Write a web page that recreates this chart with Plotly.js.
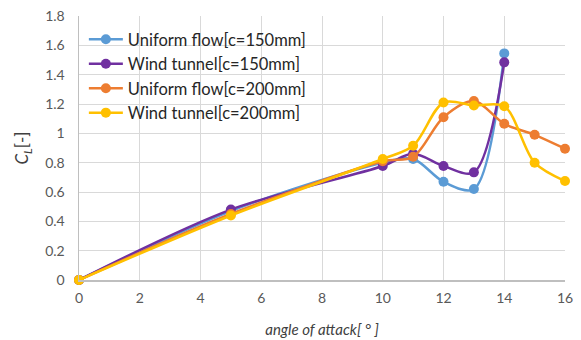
<!DOCTYPE html>
<html>
<head>
<meta charset="utf-8">
<script src="https://cdn.plot.ly/plotly-3.0.1.min.js"></script>
<style>html,body{margin:0;padding:0;background:#fff;}#chart{width:581px;height:340px;}</style>
</head>
<body>
<div id="chart"></div>
<script>
const seriesNames = ["Uniform flow[c=150mm]", "Wind tunnel[c=150mm]", "Uniform flow[c=200mm]", "Wind tunnel[c=200mm]"];
const anglesShort = [0, 5, 10, 11, 12, 13, 14];
const anglesLong = [0, 5, 10, 11, 12, 13, 14, 15, 16];
const uniform150 = [0, 0.47, 0.80, 0.825, 0.67, 0.62, 1.545];
const wind150 = [0, 0.48, 0.777, 0.86, 0.777, 0.734, 1.484];
const uniform200 = [0, 0.45, 0.81, 0.84, 1.11, 1.22, 1.065, 0.99, 0.895];
const wind200 = [0, 0.44, 0.825, 0.915, 1.21, 1.19, 1.185, 0.80, 0.675];
const colors = ["#5B9BD5", "#7030A0", "#ED7D31", "#FFC000"];

const xs = [anglesShort, anglesShort, anglesLong, anglesLong];
const ys = [uniform150, wind150, uniform200, wind200];
const traces = ys.map((y, i) => ({
  x: xs[i], y: y, name: seriesNames[i], type: 'scatter', mode: 'lines+markers',
  cliponaxis: false,
  line: {color: colors[i], width: 2.5, shape: 'spline', smoothing: 0.9},
  marker: {color: colors[i], size: 10}
}));

const font = "Lato, 'Open Sans', sans-serif";
const layout = {
  width: 581, height: 340,
  margin: {l: 79, r: 16, t: 16, b: 60},
  paper_bgcolor: '#fff', plot_bgcolor: '#fff',
  font: {family: font, size: 14, color: '#595959'},
  showlegend: true,
  legend: {x: 0.01, y: 0.977, xanchor: 'left', yanchor: 'top', bgcolor: 'rgba(0,0,0,0)',
           font: {family: font, size: 16.5, color: '#262626'}, tracegroupgap: 0, itemwidth: 34},
  xaxis: {range: [0, 16], dtick: 2, tick0: 0, showgrid: true, gridcolor: '#d9d9d9', gridwidth: 1,
          zeroline: false, showline: true, linecolor: '#bfbfbf', linewidth: 1.5, ticks: '',
          ticklabelstandoff: 5,
          tickfont: {family: font, size: 14, color: '#595959'},
          title: {text: '<i>angle of attack[ ° ]</i>', font: {family: font, size: 15, color: '#404040'}, standoff: 19}},
  yaxis: {range: [0, 1.8], dtick: 0.2, tick0: 0, showgrid: true, gridcolor: '#d9d9d9', gridwidth: 1,
          zeroline: false, showline: true, linecolor: '#bfbfbf', linewidth: 1.5, ticks: '',
          ticklabelstandoff: 10,
          tickfont: {family: font, size: 14, color: '#595959'},
          title: {text: '<i>C<sub>L</sub></i>[-]', font: {family: font, size: 17, color: '#404040'}, standoff: 12}},
};
Plotly.newPlot('chart', traces, layout, {displayModeBar: false, staticPlot: true});
</script>
</body>
</html>
